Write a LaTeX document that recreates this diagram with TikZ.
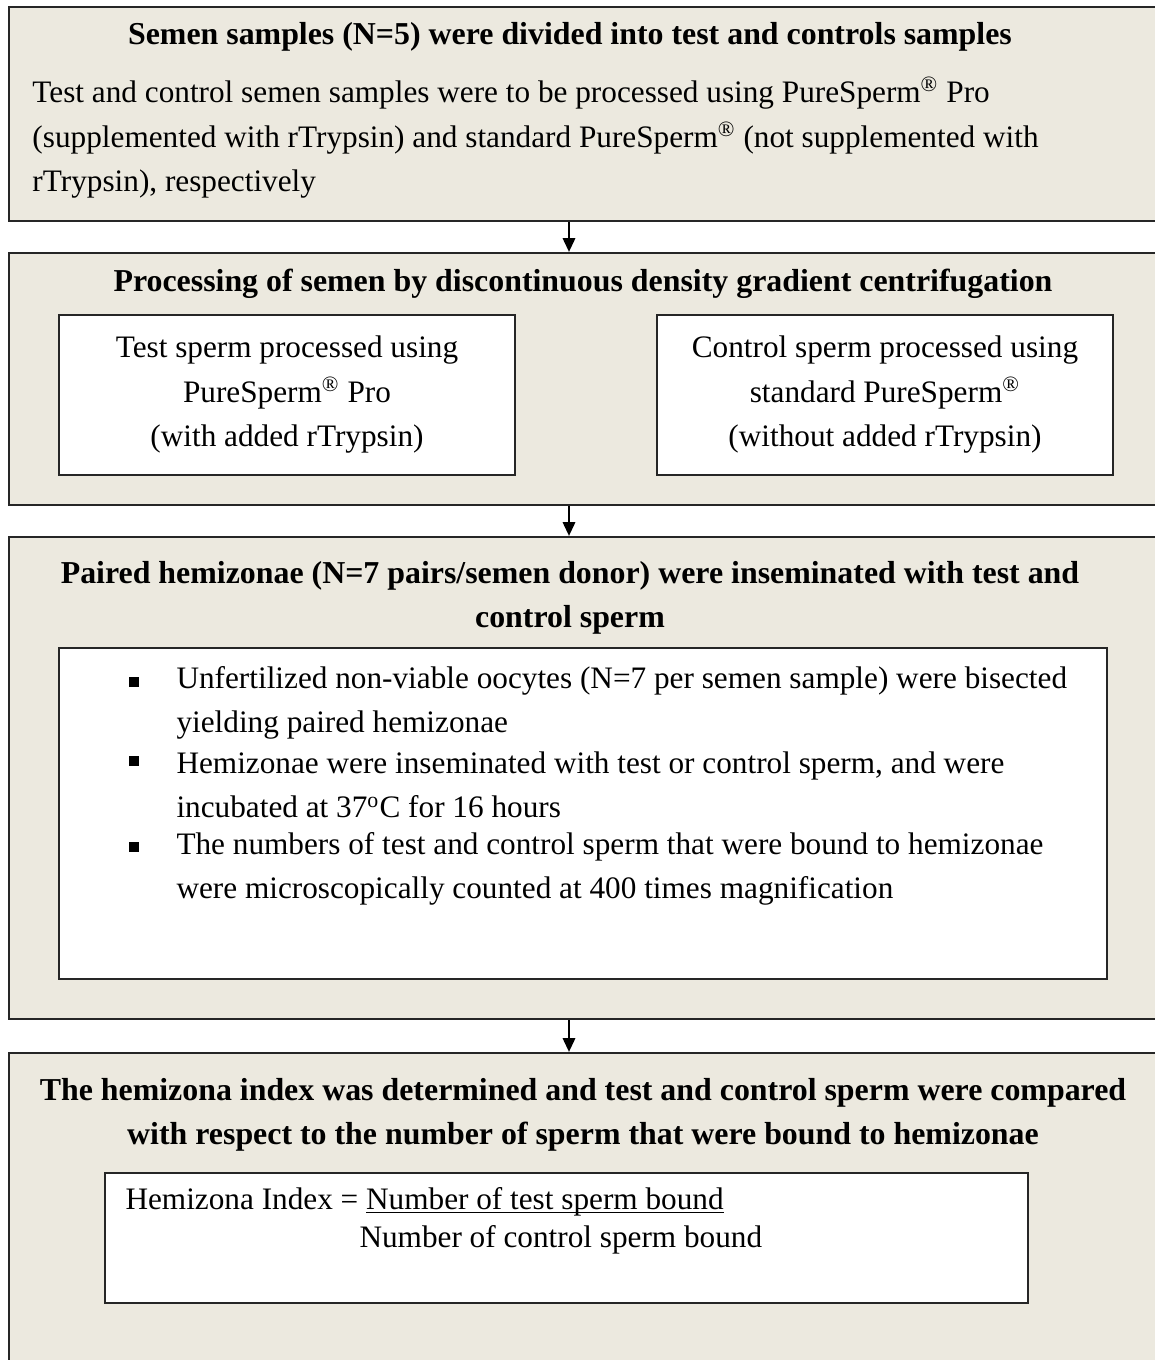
\documentclass[tikz,border=0pt]{standalone}
\usepackage{fontspec}
\setmainfont{Liberation Serif}
\usepackage{tikz}
\usetikzlibrary{fit, arrows.meta}
\definecolor{panelbg}{RGB}{236,233,223}
\newcommand{\reg}{\textsuperscript{\textregistered}}
\newsavebox{\ulbox}
\newcommand{\lineunder}[1]{\sbox{\ulbox}{#1}\rlap{\rule[-1.4pt]{\wd\ulbox}{0.6pt}}\usebox{\ulbox}}

\begin{document}
\begin{tikzpicture}[x=0.4pt, y=-0.4pt,
    every node/.style={font=\fontsize{12.5}{17.8}\selectfont, inner sep=0pt},
    panel/.style={draw=black!85, line width=0.9pt, fill=panelbg, inner sep=0pt},
    inset/.style={draw=black!85, line width=0.7pt, fill=white, inner sep=0pt},
    head/.style={font=\fontsize{12.75}{17.8}\selectfont\bfseries, align=center},
    sqmark/.style={fill=black, minimum size=3.8pt, inner sep=0pt},
    flow/.style={-{Triangle[width=5pt,length=5.5pt]}, line width=0.7pt}]
  \useasboundingbox (0,0) rectangle (1154,1360);
  \coordinate (spine) at (569,0);

  % stage panels
  \node[panel, fit={(9,7) (1158,221)}] (split) {};
  \node[panel, fit={(9,253) (1158,505)}] (dgc) {};
  \node[panel, fit={(9,537) (1158,1019)}] (hza) {};
  \node[panel, fit={(9,1053) (1158,1372)}] (index) {};

  % inner white boxes
  \node[inset, fit={(59,315) (515,475)}] (testbox) {};
  \node[inset, fit={(657,315) (1113,475)}] (ctrlbox) {};
  \node[inset, fit={(59,648) (1107,979)}] (stepbox) {};
  \node[inset, fit={(105,1173) (1028,1303)}] (hibox) {};

  % texts
  \node[head] (split-t) at (570,37) {Semen samples (N=5) were divided into test and controls samples};
  \node[align=left, anchor=west] (split-b) at (32,138)
    {Test and control semen samples were to be processed using PureSperm\reg{} Pro\\
     (supplemented with rTrypsin) and standard PureSperm\reg{} (not supplemented with\\
     rTrypsin), respectively};

  \node[head] (dgc-t) at (583,284) {Processing of semen by discontinuous density gradient centrifugation};
  \node[align=center] (test-t) at (testbox) {Test sperm processed using\\ PureSperm\reg{} Pro\\ (with added rTrypsin)};
  \node[align=center] (ctrl-t) at (ctrlbox) {Control sperm processed using\\ standard PureSperm\reg{}\\ (without added rTrypsin)};

  \node[head] (hza-t) at (570,598) {Paired hemizonae (N=7 pairs/semen donor) were inseminated with test and\\ control sperm};
  \node[sqmark] (b1) at (134,682) {};
  \node[sqmark] (b2) at (134,761) {};
  \node[sqmark] (b3) at (134,847) {};
  \node[align=left, anchor=west] (i1) at (176,703)
    {Unfertilized non-viable oocytes (N=7 per semen sample) were bisected\\ yielding paired hemizonae};
  \node[align=left, anchor=west] (i2) at (176,785)
    {Hemizonae were inseminated with test or control sperm, and were\\ incubated at 37\textsuperscript{o}C for 16 hours};
  \node[align=left, anchor=west] (i3) at (176,869)
    {The numbers of test and control sperm that were bound to hemizonae\\ were microscopically counted at 400 times magnification};

  \node[head] (index-t) at (583,1115) {The hemizona index was determined and test and control sperm were compared\\ with respect to the number of sperm that were bound to hemizonae};
  \node[anchor=west] (num) at (125,1202) {Hemizona Index = \lineunder{Number of test sperm bound}};
  \node[anchor=west] (den) at (359,1240) {Number of control sperm bound};

  % arrows
  \draw[flow] (split.south -| spine) -- (dgc.north -| spine);
  \draw[flow] (dgc.south -| spine) -- (hza.north -| spine);
  \draw[flow] (hza.south -| spine) -- (index.north -| spine);
\end{tikzpicture}
\end{document}
